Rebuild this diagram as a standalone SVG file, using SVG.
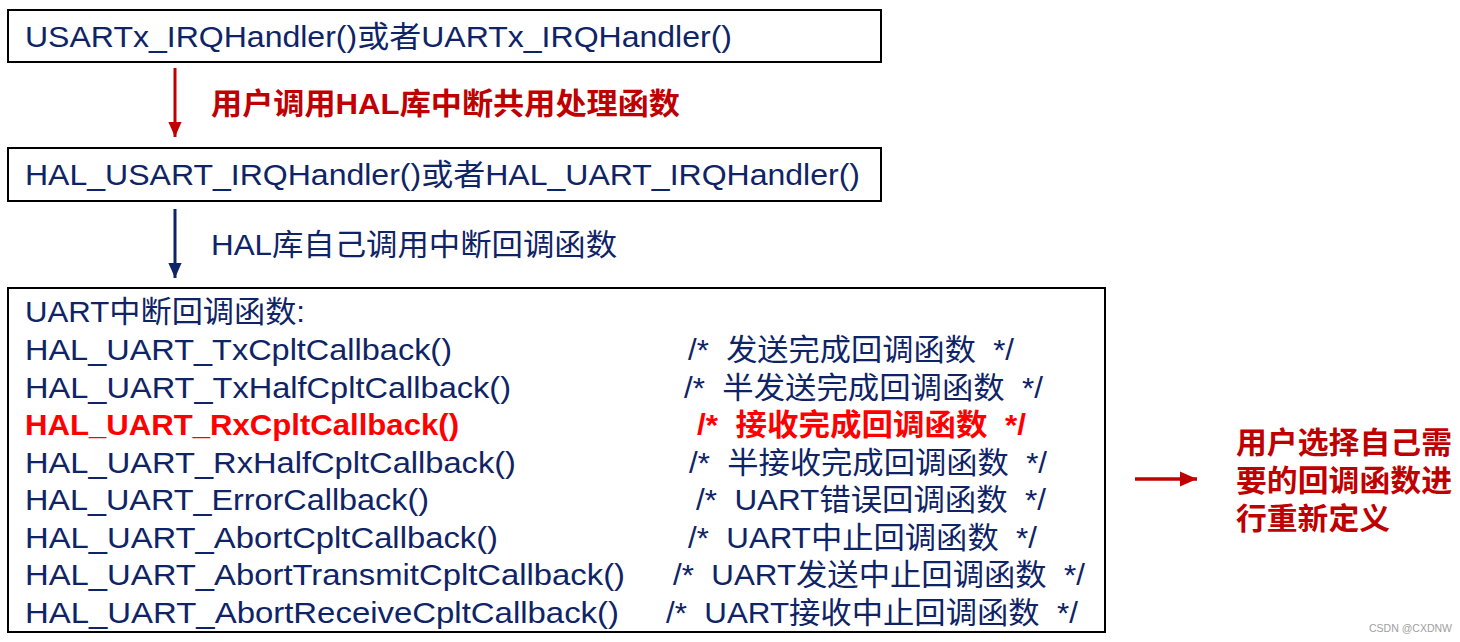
<svg xmlns="http://www.w3.org/2000/svg" width="1460" height="642" viewBox="0 0 1460 642">
<style>
text{font-family:"Liberation Sans","Noto Sans CJK SC",sans-serif;font-size:30px;fill:#0f2466}
.c{white-space:pre}
.box{fill:#fff;stroke:#000;stroke-width:2}
.red{fill:#c00000;font-weight:bold}
.hot{fill:#ff0000;font-weight:bold}
.wm{font-size:10.5px;fill:#a0a0a0}
</style>
<defs>
<marker id="ahr" markerWidth="5" markerHeight="4.4" refX="5" refY="2.2" orient="auto" markerUnits="strokeWidth"><path d="M0,0 L5,2.2 L0,4.4 Z" fill="#c00000"/></marker>
<marker id="ahb" markerWidth="5" markerHeight="4.4" refX="5" refY="2.2" orient="auto" markerUnits="strokeWidth"><path d="M0,0 L5,2.2 L0,4.4 Z" fill="#0f2466"/></marker>
</defs>
<rect width="1460" height="642" fill="#fff"/>
<g id="connectors">
<line x1="175" y1="68" x2="175" y2="137" stroke="#c00000" stroke-width="3" marker-end="url(#ahr)"/>
<text class="red" x="211" y="114" textLength="469" lengthAdjust="spacingAndGlyphs">用户调用HAL库中断共用处理函数</text>
<line x1="175" y1="209" x2="175" y2="278" stroke="#0f2466" stroke-width="3" marker-end="url(#ahb)"/>
<text x="211" y="255" textLength="406" lengthAdjust="spacingAndGlyphs">HAL库自己调用中断回调函数</text>
<line x1="1135" y1="479" x2="1197" y2="479" stroke="#c00000" stroke-width="3.5" marker-end="url(#ahr)"/>
</g>
<g id="node-usartx">
<rect class="box" x="8" y="10" width="873" height="52"/>
<text x="25" y="47" textLength="707" lengthAdjust="spacingAndGlyphs">USARTx_IRQHandler()或者UARTx_IRQHandler()</text>
</g>
<g id="node-hal-irq">
<rect class="box" x="8" y="148" width="873" height="53"/>
<text x="25" y="185" textLength="835" lengthAdjust="spacingAndGlyphs">HAL_USART_IRQHandler()或者HAL_UART_IRQHandler()</text>
</g>
<g id="node-callbacks">
<rect class="box" x="8" y="288" width="1097" height="344"/>
<text x="25" y="322" textLength="280" lengthAdjust="spacingAndGlyphs">UART中断回调函数:</text>
<text x="25" y="360" textLength="427" lengthAdjust="spacingAndGlyphs">HAL_UART_TxCpltCallback()</text>
<text class="c" x="688" y="360" textLength="326" lengthAdjust="spacingAndGlyphs">/*  发送完成回调函数  */</text>
<text x="25" y="397.5" textLength="486" lengthAdjust="spacingAndGlyphs">HAL_UART_TxHalfCpltCallback()</text>
<text class="c" x="684" y="397.5" textLength="359" lengthAdjust="spacingAndGlyphs">/*  半发送完成回调函数  */</text>
<text class="hot" x="25" y="435" textLength="434" lengthAdjust="spacingAndGlyphs">HAL_UART_RxCpltCallback()</text>
<text class="hot c" x="697" y="435" textLength="329" lengthAdjust="spacingAndGlyphs">/*  接收完成回调函数  */</text>
<text x="25" y="472.5" textLength="491" lengthAdjust="spacingAndGlyphs">HAL_UART_RxHalfCpltCallback()</text>
<text class="c" x="689" y="472.5" textLength="358" lengthAdjust="spacingAndGlyphs">/*  半接收完成回调函数  */</text>
<text x="25" y="510" textLength="404" lengthAdjust="spacingAndGlyphs">HAL_UART_ErrorCallback()</text>
<text class="c" x="696" y="510" textLength="350" lengthAdjust="spacingAndGlyphs">/*  UART错误回调函数  */</text>
<text x="25" y="547.5" textLength="473" lengthAdjust="spacingAndGlyphs">HAL_UART_AbortCpltCallback()</text>
<text class="c" x="688" y="547.5" textLength="349" lengthAdjust="spacingAndGlyphs">/*  UART中止回调函数  */</text>
<text x="25" y="585" textLength="600" lengthAdjust="spacingAndGlyphs">HAL_UART_AbortTransmitCpltCallback()</text>
<text class="c" x="673" y="585" textLength="412" lengthAdjust="spacingAndGlyphs">/*  UART发送中止回调函数  */</text>
<text x="25" y="622.5" textLength="594" lengthAdjust="spacingAndGlyphs">HAL_UART_AbortReceiveCpltCallback()</text>
<text class="c" x="666" y="622.5" textLength="412" lengthAdjust="spacingAndGlyphs">/*  UART接收中止回调函数  */</text>
</g>
<g id="note">
<text class="red" x="1236" y="453" textLength="216" lengthAdjust="spacingAndGlyphs">用户选择自己需</text>
<text class="red" x="1236" y="491" textLength="216" lengthAdjust="spacingAndGlyphs">要的回调函数进</text>
<text class="red" x="1236" y="529" textLength="154" lengthAdjust="spacingAndGlyphs">行重新定义</text>
</g>
<text class="wm" x="1369" y="632">CSDN @CXDNW</text>
</svg>
